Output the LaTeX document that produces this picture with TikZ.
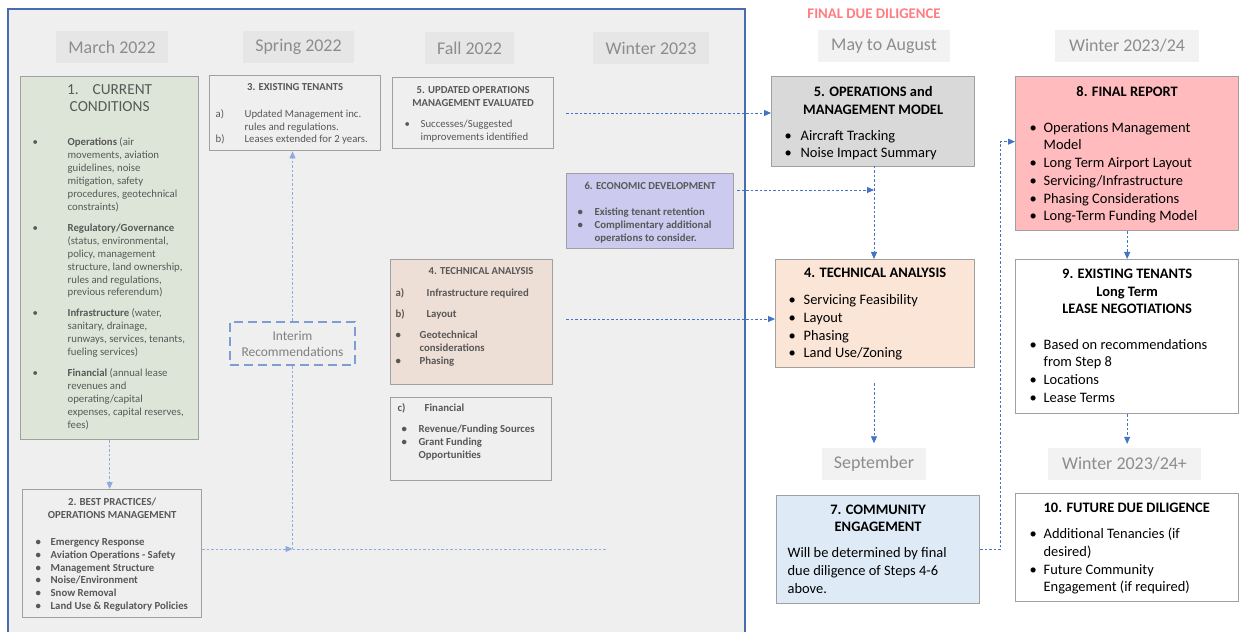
\documentclass[tikz,border=0pt]{standalone}
\usepackage{fontspec}
\setmainfont{Carlito}
\usetikzlibrary{arrows.meta}

\definecolor{panelbg}{RGB}{239,239,239}
\definecolor{panelline}{RGB}{72,108,178}
\definecolor{hdrleft}{RGB}{230,230,230}
\definecolor{hdrright}{RGB}{242,242,242}
\definecolor{hdrtext}{RGB}{140,140,140}
\definecolor{boxline}{RGB}{160,160,160}
\definecolor{lefttext}{RGB}{88,88,88}
\definecolor{curfill}{RGB}{221,229,216}
\definecolor{ecofill}{RGB}{204,202,238}
\definecolor{techfillL}{RGB}{238,223,214}
\definecolor{opsfill}{RGB}{217,217,217}
\definecolor{techfill}{RGB}{251,229,214}
\definecolor{commfill}{RGB}{222,235,247}
\definecolor{repfill}{RGB}{255,187,190}
\definecolor{finalred}{RGB}{255,124,128}
\definecolor{arrowblue}{RGB}{68,114,196}
\definecolor{arrowlight}{RGB}{143,170,220}
\definecolor{interimline}{RGB}{127,156,212}

\newcommand{\lefttxt}{\fontsize{10.8}{13}\selectfont}
\newcommand{\lefttitle}{\fontsize{10.7}{13}\selectfont\bfseries}
\newcommand{\righttxt}{\fontsize{14.5}{17.8}\selectfont}
\newcommand{\hdrtxt}{\fontsize{18}{21}\selectfont}

\begin{document}
\begin{tikzpicture}[x=1bp, y=-1bp,
  >={Triangle[length=7bp,width=6bp]},
  box/.style={draw=boxline, line width=1.3bp, anchor=north west, inner sep=0pt},
  hdr/.style={inner sep=0pt, text=hdrtext, font=\hdrtxt, minimum height=32bp},
  conn/.style={draw=arrowblue, line width=0.8bp, dash pattern=on 2.5bp off 2bp},
  lconn/.style={draw=arrowlight, line width=0.8bp, dash pattern=on 2.5bp off 2bp}]
\useasboundingbox (0,0) rectangle (1239,632);

% left panel
\fill[panelbg] (8,9) rectangle (745,640);
\draw[panelline, line width=1.3bp] (8,640) -- (8,9) -- (745,9) -- (745,640);

\node[text=finalred, font=\fontsize{14.8}{17}\selectfont\bfseries] (fdd) at (874,14) {FINAL DUE DILIGENCE};

% time headers
\node[hdr, fill=hdrleft, minimum width=111bp] (mar22) at (112,47) {March 2022};
\node[hdr, fill=hdrleft, minimum width=111bp] (spr22) at (298.5,47) {Spring 2022};
\node[hdr, fill=hdrleft, minimum width=89bp] (fal22) at (469.5,48) {Fall 2022};
\node[hdr, fill=hdrleft, minimum width=116bp] (win23) at (651,48) {Winter 2023};
\node[hdr, fill=hdrright, minimum width=132bp] (mayaug) at (884,46) {May to August};
\node[hdr, fill=hdrright, minimum width=144bp] (win24) at (1127,46) {Winter 2023/24};
\node[hdr, fill=hdrright, minimum width=104bp] (sept) at (874,463.5) {September};
\node[hdr, fill=hdrright, minimum width=153bp] (win24p) at (1124.5,464) {Winter 2023/24+};

% left boxes
\node[box, fill=curfill, text=lefttext] (cur) at (20,76) {\parbox[c][363bp][t]{178bp}{%
\vspace*{8bp}
{\fontsize{15.4}{17}\selectfont\centering 1.\hspace{0.9em}CURRENT\\CONDITIONS\par}
\vspace{21bp}
{\lefttxt\noindent\begin{tabular}[t]{@{\hspace{12bp}}p{35bp}@{}p{140bp}@{}}
\textbullet & \textbf{Operations} (air\newline movements, aviation\newline guidelines, noise\newline mitigation, safety\newline procedures, geotechnical\newline constraints)\\[8bp]
\textbullet & \textbf{Regulatory/Governance}\newline (status, environmental,\newline policy, management\newline structure, land ownership,\newline rules and regulations,\newline previous referendum)\\[8bp]
\textbullet & \textbf{Infrastructure} (water,\newline sanitary, drainage,\newline runways, services, tenants,\newline fueling services)\\[8bp]
\textbullet & \textbf{Financial} (annual lease\newline revenues and\newline operating/capital\newline expenses, capital reserves,\newline fees)
\end{tabular}\par}}};

\node[box, fill=panelbg, text=lefttext] (best) at (22,489) {\parbox[c][128bp][t]{179bp}{%
\vspace*{8.5bp}
{\fontsize{10.8}{13}\selectfont\bfseries\centering 2. BEST PRACTICES/\\OPERATIONS MANAGEMENT\par}
\vspace{14.2bp}
{\fontsize{10.8}{12.8}\selectfont\bfseries\noindent\begin{tabular}[t]{@{\hspace{13bp}}p{15bp}@{}p{155bp}@{}}
\textbullet & Emergency Response\\
\textbullet & Aviation Operations - Safety\\
\textbullet & Management Structure\\
\textbullet & Noise/Environment\\
\textbullet & Snow Removal\\
\textbullet & Land Use \& Regulatory Policies
\end{tabular}\par}}};

\node[box, fill=panelbg, text=lefttext] (ten3) at (209,75) {\parbox[c][75bp][t]{171bp}{%
\vspace*{7.5bp}
{\lefttitle\centering 3. EXISTING TENANTS\par}
\vspace{14bp}
{\lefttxt\noindent\begin{tabular}[t]{@{\hspace{6bp}}p{29bp}@{}p{140bp}@{}}
a) & Updated Management inc.\newline rules and regulations.\\
b) & Leases extended for 2 years.
\end{tabular}\par}}};

\node[box, fill=panelbg, text=lefttext] (upd5) at (392,77) {\parbox[c][71bp][t]{161bp}{%
\vspace*{8.5bp}
{\lefttitle\centering 5. UPDATED OPERATIONS\\MANAGEMENT EVALUATED\par}
\vspace{8.5bp}
{\lefttxt\noindent\begin{tabular}[t]{@{\hspace{12bp}}p{16bp}@{}p{140bp}@{}}
\textbullet & Successes/Suggested\newline improvements identified
\end{tabular}\par}}};

\node[box, fill=ecofill, text=lefttext] (eco6) at (566,173) {\parbox[c][75bp][t]{167bp}{%
\vspace*{8.5bp}
{\lefttitle\centering 6. ECONOMIC DEVELOPMENT\par}
\vspace{13.5bp}
{\lefttxt\bfseries\noindent\begin{tabular}[t]{@{\hspace{11bp}}p{17bp}@{}p{145bp}@{}}
\textbullet & Existing tenant retention\\
\textbullet & Complimentary additional\newline operations to consider.
\end{tabular}\par}}};

\node[box, fill=techfillL, text=lefttext] (tech4L) at (390,259) {\parbox[c][125bp][t]{162bp}{%
\vspace*{7.5bp}
{\lefttitle\hspace*{38bp}4. TECHNICAL ANALYSIS\par}
\vspace{9.5bp}
{\lefttxt\bfseries\noindent\begin{tabular}[t]{@{\hspace{5bp}}p{24bp}@{}p{140bp}@{}}
a) & \hspace*{7bp}Infrastructure required\\[8bp]
b) & \hspace*{7bp}Layout\\[8bp]
\textbullet & Geotechnical\newline considerations\\
\textbullet & Phasing
\end{tabular}\par}}};

\node[box, fill=panelbg, text=lefttext] (fin) at (390,397) {\parbox[c][83bp][t]{161bp}{%
\vspace*{5bp}
{\lefttxt\bfseries\noindent\begin{tabular}[t]{@{\hspace{7bp}}p{21bp}@{}p{140bp}@{}}
c) & \hspace*{6bp}Financial\\[8bp]
\hspace*{4bp}\textbullet & Revenue/Funding Sources\\
\hspace*{4bp}\textbullet & Grant Funding\newline Opportunities
\end{tabular}\par}}};

\node[draw=interimline, line width=2.3bp, dash pattern=on 9bp off 5bp, fill=panelbg,
  text=gray, minimum width=125bp, minimum height=43bp, align=center,
  font=\fontsize{13.5}{16}\selectfont] (interim) at (292.5,343.5) {Interim\\Recommendations};

% right boxes
\node[box, fill=opsfill] (ops5) at (771,76) {\parbox[c][90bp][t]{203bp}{\righttxt
\vspace*{9.7bp}
{\bfseries\centering 5. OPERATIONS and\\MANAGEMENT MODEL\par}
\vspace{8.2bp}
\noindent\begin{tabular}[t]{@{\hspace{13bp}}p{16bp}@{}p{180bp}@{}}
\textbullet & Aircraft Tracking\\
\textbullet & Noise Impact Summary
\end{tabular}\par}};

\node[box, fill=techfill] (tech4) at (775,259) {\parbox[c][108bp][t]{199bp}{\righttxt
\vspace*{8.4bp}
{\bfseries\centering 4. TECHNICAL ANALYSIS\par}
\vspace{9.5bp}
\noindent\begin{tabular}[t]{@{\hspace{13bp}}p{15bp}@{}p{170bp}@{}}
\textbullet & Servicing Feasibility\\
\textbullet & Layout\\
\textbullet & Phasing\\
\textbullet & Land Use/Zoning
\end{tabular}\par}};

\node[box, fill=commfill] (comm7) at (776,495) {\parbox[c][108bp][t]{203bp}{\righttxt
\vspace*{9.4bp}
{\fontsize{14.5}{17}\selectfont\bfseries\centering 7. COMMUNITY\\ENGAGEMENT\par}
\vspace{8.5bp}
\noindent\begin{tabular}[t]{@{\hspace{11bp}}l@{}}
Will be determined by final\\
due diligence of Steps 4-6\\
above.
\end{tabular}\par}};

\node[box, fill=repfill] (rep8) at (1015,76) {\parbox[c][154bp][t]{223bp}{\righttxt
\vspace*{9.4bp}
{\bfseries\centering 8. FINAL REPORT\par}
\vspace{18.5bp}
\noindent\begin{tabular}[t]{@{\hspace{14bp}}p{14bp}@{}p{195bp}@{}}
\textbullet & Operations Management\newline Model\\
\textbullet & Long Term Airport Layout\\
\textbullet & Servicing/Infrastructure\\
\textbullet & Phasing Considerations\\
\textbullet & Long-Term Funding Model
\end{tabular}\par}};

\node[box, fill=white] (ten9) at (1015,259) {\parbox[c][154bp][t]{223bp}{\righttxt
\vspace*{9.4bp}
{\bfseries\centering 9. EXISTING TENANTS\\Long Term\\LEASE NEGOTIATIONS\par}
\vspace{17.5bp}
\noindent\begin{tabular}[t]{@{\hspace{14bp}}p{14bp}@{}p{195bp}@{}}
\textbullet & Based on recommendations\newline from Step 8\\
\textbullet & Locations\\
\textbullet & Lease Terms
\end{tabular}\par}};

\node[box, fill=white] (fut10) at (1015,493) {\parbox[c][108bp][t]{223bp}{\righttxt
\vspace*{9.4bp}
{\bfseries\hspace*{28bp}10. FUTURE DUE DILIGENCE\par}
\vspace{8.5bp}
\noindent\begin{tabular}[t]{@{\hspace{14bp}}p{14bp}@{}p{195bp}@{}}
\textbullet & Additional Tenancies (if\newline desired)\\
\textbullet & Future Community\newline Engagement (if required)
\end{tabular}\par}};

% connectors inside the panel
\coordinate (jn) at (292.5,549);
\coordinate (lineend) at (607,549);
\draw[lconn,->] (cur.south) -- (cur.south |- best.north);
\draw[lconn,->] (best.east |- jn) -- (jn);
\draw[lconn] (jn) -- (lineend);
\draw[lconn] (jn) -- (interim.south);
\draw[lconn,->] (interim.north) -- (interim.north |- ten3.south);

% connectors to the final due diligence
\coordinate (upd5out) at (566,113);
\coordinate (eco6out) at (737,190);
\coordinate (tech4out) at (566,319);
\coordinate (tech4low) at (874,383);
\draw[conn,->] (upd5out) -- (upd5out -| ops5.west);
\draw[conn,->] (eco6out) -- (eco6out -| 874,0);
\draw[conn,->] (874,166) -- (874,259);
\draw[conn,->] (tech4out) -- (tech4out -| tech4.west);
\draw[conn,->, shorten >=4bp] (tech4low) -- (tech4low |- sept.north);
\draw[conn,->] (comm7.east) -- ++(20,0) |- ([yshift=12bp]rep8.west);
\draw[conn,->] (rep8.south) -- (rep8.south |- ten9.north);
\draw[conn,->, shorten >=4bp] (ten9.south) -- (ten9.south |- win24p.north);
\end{tikzpicture}
\end{document}
